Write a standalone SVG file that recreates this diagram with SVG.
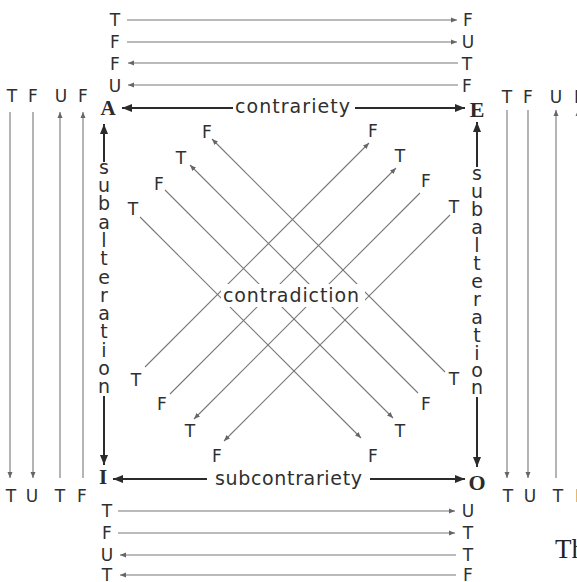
<svg xmlns="http://www.w3.org/2000/svg" width="577" height="582" viewBox="0 0 577 582">
<defs>
<marker id="ah" markerUnits="userSpaceOnUse" markerWidth="7" markerHeight="6" refX="6" refY="3" orient="auto-start-reverse"><path d="M0,0.5 L6,3 L0,5.5 z" fill="#666"/></marker>
<marker id="AH" markerUnits="userSpaceOnUse" markerWidth="11" markerHeight="9" refX="10" refY="4.5" orient="auto-start-reverse"><path d="M0,0.5 L10,4.5 L0,8.5 z" fill="#2b2b2b"/></marker>
<style>
.t{font-family:"DejaVu Sans","Liberation Sans",Arial,sans-serif;font-size:17px;fill:#2f2f2f;text-anchor:middle}
.r{font-family:"DejaVu Sans","Liberation Sans",Arial,sans-serif;font-size:19px;fill:#2f2f2f}
.v{font-family:"DejaVu Sans","Liberation Sans",Arial,sans-serif;font-size:19px;fill:#2f2f2f;text-anchor:middle}
.c{font-family:"Liberation Serif","Times New Roman",serif;font-weight:bold;fill:#2b2b2b;text-anchor:middle}
.thin{stroke:#777;stroke-width:1.1;fill:none}
.thick{stroke:#2b2b2b;stroke-width:2;fill:none}
</style>
</defs>
<rect width="577" height="582" fill="#fff"/>

<g id="connectors">
<line class="thin" x1="127" y1="20" x2="457" y2="20" marker-end="url(#ah)"/>
<line class="thin" x1="127" y1="42" x2="457" y2="42" marker-end="url(#ah)"/>
<line class="thin" x1="128" y1="63" x2="458" y2="63" marker-start="url(#ah)"/>
<line class="thin" x1="128" y1="85" x2="458" y2="85" marker-start="url(#ah)"/>
<line class="thin" x1="118" y1="511" x2="455" y2="511" marker-end="url(#ah)"/>
<line class="thin" x1="118" y1="533" x2="455" y2="533" marker-end="url(#ah)"/>
<line class="thin" x1="120" y1="555" x2="456" y2="555" marker-start="url(#ah)"/>
<line class="thin" x1="120" y1="575" x2="456" y2="575" marker-start="url(#ah)"/>
<line class="thin" x1="10" y1="112" x2="10" y2="478" marker-end="url(#ah)"/>
<line class="thin" x1="33" y1="112" x2="33" y2="478" marker-end="url(#ah)"/>
<line class="thin" x1="60" y1="112" x2="60" y2="478" marker-start="url(#ah)"/>
<line class="thin" x1="83" y1="112" x2="83" y2="478" marker-start="url(#ah)"/>
<line class="thin" x1="507" y1="110" x2="507" y2="478" marker-end="url(#ah)"/>
<line class="thin" x1="528" y1="110" x2="528" y2="478" marker-end="url(#ah)"/>
<line class="thin" x1="556" y1="110" x2="556" y2="478" marker-start="url(#ah)"/>
<line class="thin" x1="578" y1="110" x2="578" y2="478" marker-start="url(#ah)"/>
<line class="thin" x1="212" y1="139" x2="445" y2="372" marker-start="url(#ah)"/>
<line class="thin" x1="190" y1="165" x2="418" y2="393" marker-start="url(#ah)"/>
<line class="thin" x1="165" y1="190" x2="393" y2="418" marker-end="url(#ah)"/>
<line class="thin" x1="140" y1="217" x2="361" y2="438" marker-end="url(#ah)"/>
<line class="thin" x1="145" y1="367" x2="369" y2="143" marker-end="url(#ah)"/>
<line class="thin" x1="170" y1="394" x2="396" y2="168" marker-end="url(#ah)"/>
<line class="thin" x1="420" y1="193" x2="194" y2="419" marker-end="url(#ah)"/>
<line class="thin" x1="450" y1="215" x2="224" y2="441" marker-end="url(#ah)"/>
<line class="thick" x1="233" y1="108" x2="122" y2="108" marker-end="url(#AH)"/>
<line class="thick" x1="355" y1="108" x2="465" y2="108" marker-end="url(#AH)"/>
<line class="thick" x1="207" y1="479" x2="113" y2="479" marker-end="url(#AH)"/>
<line class="thick" x1="370" y1="479" x2="465" y2="479" marker-end="url(#AH)"/>
<line class="thick" x1="104" y1="162" x2="104" y2="124" marker-end="url(#AH)"/>
<line class="thick" x1="104" y1="396" x2="104" y2="465" marker-end="url(#AH)"/>
<line class="thick" x1="477" y1="167" x2="477" y2="122" marker-end="url(#AH)"/>
<line class="thick" x1="477" y1="397" x2="477" y2="467" marker-end="url(#AH)"/>
</g>

<g id="corner-A"><text class="c" x="108" y="115" font-size="21">A</text></g>
<g id="corner-E"><text class="c" x="477" y="117" font-size="22">E</text></g>
<g id="corner-I"><text class="c" x="103" y="484" font-size="21">I</text></g>
<g id="corner-O"><text class="c" x="477" y="490" font-size="22">O</text></g>

<g id="rel-contrariety"><text class="r" x="235" y="113" textLength="115" lengthAdjust="spacing">contrariety</text></g>
<g id="rel-subcontrariety"><text class="r" x="215" y="485" textLength="147" lengthAdjust="spacing">subcontrariety</text></g>
<g id="rel-contradiction">
<rect x="221" y="284" width="144" height="23" fill="#fff"/>
<text class="r" x="223" y="302" textLength="136" lengthAdjust="spacing">contradiction</text>
</g>
<g id="rel-subalteration-left">
<text class="v"><tspan x="104" y="174">s</tspan><tspan x="104" y="192">u</tspan><tspan x="104" y="210">b</tspan><tspan x="104" y="229">a</tspan><tspan x="104" y="247">l</tspan><tspan x="104" y="265">t</tspan><tspan x="104" y="284">e</tspan><tspan x="104" y="302">r</tspan><tspan x="104" y="320">a</tspan><tspan x="104" y="338">t</tspan><tspan x="104" y="357">i</tspan><tspan x="104" y="375">o</tspan><tspan x="104" y="393">n</tspan></text>
</g>
<g id="rel-subalteration-right">
<text class="v"><tspan x="477" y="180">s</tspan><tspan x="477" y="198">u</tspan><tspan x="477" y="216">b</tspan><tspan x="477" y="234">a</tspan><tspan x="477" y="252">l</tspan><tspan x="477" y="270">t</tspan><tspan x="477" y="288">e</tspan><tspan x="477" y="306">r</tspan><tspan x="477" y="324">a</tspan><tspan x="477" y="342">t</tspan><tspan x="477" y="360">i</tspan><tspan x="477" y="377">o</tspan><tspan x="477" y="394">n</tspan></text>
</g>

<g id="top-rows">
<text class="t" x="115" y="26">T</text><text class="t" x="468" y="26">F</text>
<text class="t" x="115" y="48">F</text><text class="t" x="468" y="48">U</text>
<text class="t" x="115" y="70">F</text><text class="t" x="467" y="70">T</text>
<text class="t" x="115" y="92">U</text><text class="t" x="467" y="92">F</text>
</g>
<g id="bottom-rows">
<text class="t" x="107" y="517">T</text><text class="t" x="468" y="517">U</text>
<text class="t" x="107" y="539">F</text><text class="t" x="468" y="539">T</text>
<text class="t" x="107" y="561">U</text><text class="t" x="468" y="561">T</text>
<text class="t" x="107" y="581">T</text><text class="t" x="468" y="581">F</text>
</g>
<g id="left-columns">
<text class="t" x="12" y="102">T</text><text class="t" x="33" y="102">F</text><text class="t" x="61" y="102">U</text><text class="t" x="83" y="102">F</text>
<text class="t" x="11" y="502">T</text><text class="t" x="32" y="502">U</text><text class="t" x="60" y="502">T</text><text class="t" x="82" y="502">F</text>
</g>
<g id="right-columns">
<text class="t" x="507" y="103">T</text><text class="t" x="528" y="103">F</text><text class="t" x="556" y="103">U</text><text class="t" x="579" y="103">F</text>
<text class="t" x="508" y="502">T</text><text class="t" x="530" y="502">U</text><text class="t" x="558" y="502">T</text><text class="t" x="580" y="502">F</text>
</g>
<g id="diagonal-labels">
<text class="t" x="207" y="138">F</text><text class="t" x="181" y="164">T</text><text class="t" x="159" y="190">F</text><text class="t" x="133" y="215">T</text>
<text class="t" x="373" y="137">F</text><text class="t" x="400" y="162">T</text><text class="t" x="426" y="187">F</text><text class="t" x="454" y="213">T</text>
<text class="t" x="136" y="386">T</text><text class="t" x="162" y="410">F</text><text class="t" x="190" y="437">T</text><text class="t" x="217" y="462">F</text>
<text class="t" x="454" y="385">T</text><text class="t" x="426" y="410">F</text><text class="t" x="400" y="437">T</text><text class="t" x="373" y="462">F</text>
</g>
<g id="caption"><text x="555" y="558" font-family="'Liberation Serif','Times New Roman',serif" font-size="27" fill="#222">Th</text></g>
</svg>
